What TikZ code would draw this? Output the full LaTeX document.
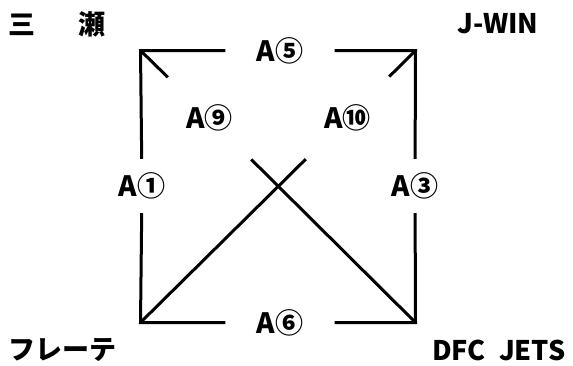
\documentclass[tikz,border=0pt]{standalone}
\usepackage{fontspec}
\setmainfont{Noto Sans CJK JP}[BoldFont={Noto Sans CJK JP Black}]
\usepackage{tikz}
\usetikzlibrary{positioning}

\begin{document}
\begin{tikzpicture}[
		x=1pt, y=-1pt,
		team/.style={
			inner sep=0pt,
			font=\fontsize{27}{27}\selectfont\bfseries
		},
		game/.style={
			inner sep=0pt,
			font=\fontsize{28}{28}\selectfont\bfseries
		},
		line/.style={line width=3pt}
		]
		\useasboundingbox (0,0) rectangle (573,365);
		
		\coordinate (mise) at (140.5,50.5);
		\coordinate (jwin) at (415.5,50.5);
		\coordinate (flete) at (140.5,322.5);
		\coordinate (dfc) at (415.5,322.5);
		
		\node[team, anchor=west] (mise label) at (8,24) {三\hspace{43pt}瀬};
		\node[team] (jwin label) at (498,24) {J-WIN};
		\node[team, anchor=west] (flete label) at (8,350) {フレーテ};
		\node[team] (dfc label) at (499,350) {DFC\hspace{7pt} JETS};
		
		\node[game, minimum width=109pt] (a5) at (280,50.5) {A⑤};
		\node[game, minimum height=54pt] (a1) at (142,186) {A①};
		\node[game, minimum height=54pt] (a3) at (415,186) {A③};
		\node[game, minimum width=109pt] (a6) at (280,322.5) {A⑥};
		\node[game, minimum width=83pt, minimum height=83pt] (a9) at (209.5,118) {A⑨};
		\node[game, minimum width=83pt, minimum height=83pt] (a10) at (347.5,118) {A⑩};
		
		\draw[line] (a1) -- (mise) -- (a5);
		\draw[line] (a5) -- (jwin) -- (a3);
		\draw[line] (a3) -- (dfc) -- (a6);
		\draw[line] (a6) -- (flete) -- (a1);
		\draw[line] (mise) -- (a9);
		\draw[line] (a9) -- (dfc);
		\draw[line] (flete) -- (a10);
		\draw[line] (a10) -- (jwin);
		
	\end{tikzpicture}
\end{document}
